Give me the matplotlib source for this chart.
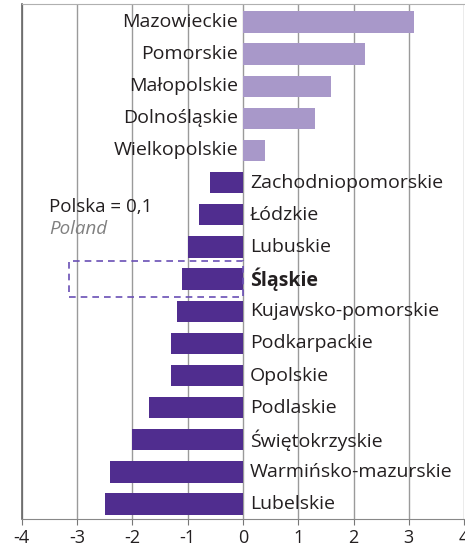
import matplotlib.pyplot as plt
from matplotlib.patches import Rectangle

plt.rcParams["font.family"] = ["Open Sans", "DejaVu Sans"]

regions = [
    "Mazowieckie", "Pomorskie", "Małopolskie", "Dolnośląskie", "Wielkopolskie",
    "Zachodniopomorskie", "Łódzkie", "Lubuskie", "Śląskie", "Kujawsko-pomorskie",
    "Podkarpackie", "Opolskie", "Podlaskie", "Świętokrzyskie",
    "Warmińsko-mazurskie", "Lubelskie",
]
values = [3.1, 2.2, 1.6, 1.3, 0.4, -0.6, -0.8, -1.0, -1.1, -1.2,
          -1.3, -1.3, -1.7, -2.0, -2.4, -2.5]
highlight = "Śląskie"
x_ticks = [-4, -3, -2, -1, 0, 1, 2, 3, 4]

LIGHT = "#a898c9"
DARK = "#502d8f"
TEXT = "#231f20"

fig = plt.figure(figsize=(4.65, 5.5), dpi=100)
ax = fig.add_axes([0.047, 0.056, 0.951, 0.936])

n = len(regions)
ys = [n - 1 - i for i in range(n)]
colors = [LIGHT if v > 0 else DARK for v in values]
ax.barh(ys, values, height=0.66, color=colors, zorder=2)

for y, name, v in zip(ys, regions, values):
    weight = "bold" if name == highlight else "normal"
    if v > 0:
        ax.text(-0.09, y, name, ha="right", va="center", fontsize=14,
                color=TEXT, weight=weight, zorder=3)
    else:
        ax.text(0.13, y, name, ha="left", va="center", fontsize=14,
                color=TEXT, weight=weight, zorder=3)

# highlight box around Śląskie
hy = ys[regions.index(highlight)]
ax.add_patch(Rectangle((-3.14, hy - 0.55), 3.14, 1.1, fill=False,
                       edgecolor="#6a4fb5", linestyle=(0, (4, 3)), lw=1.2, zorder=4))

# national average note on a white patch
ax.add_patch(Rectangle((-3.62, 8.0), 2.0, 1.86, facecolor="white",
                       edgecolor="none", zorder=1.5))
ax.text(-3.5, 9.1, "Polska = 0,1", ha="left", va="baseline", fontsize=13.5,
        color=TEXT, zorder=3)
ax.text(-3.5, 8.39, "Poland", ha="left", va="baseline", fontsize=13.5,
        color="#808080", style="italic", zorder=3)

ax.set_xlim(-4, 4)
ax.set_ylim(-0.47, n - 1 + 0.545)
ax.set_xticks(x_ticks)
ax.set_xticklabels([str(t) for t in x_ticks], fontsize=13, color=TEXT)
ax.set_yticks([])
ax.grid(axis="x", color="#9a9a9a", lw=1.0, zorder=0)
ax.tick_params(axis="x", length=4, color="#777777", pad=3)

ax.spines["right"].set_visible(False)
ax.spines["top"].set_color("#b0b0b0")
ax.spines["left"].set_color("#666666")
ax.spines["bottom"].set_color("#888888")
ax.spines["left"].set_linewidth(1.2)

fig.savefig("out.png", dpi=100)
